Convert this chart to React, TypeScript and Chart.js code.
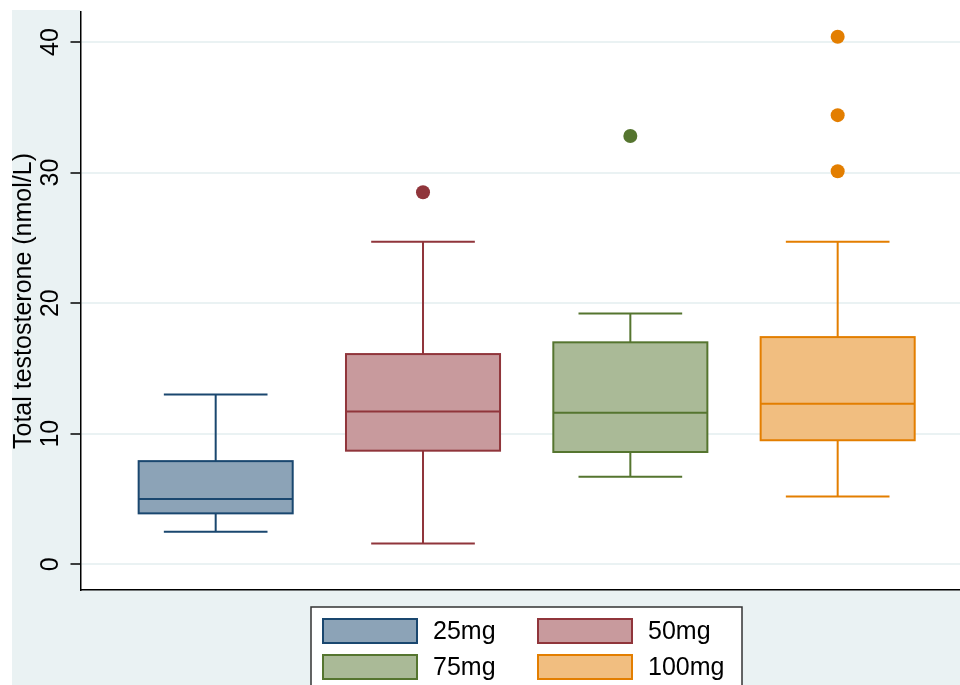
import React, { useEffect, useRef } from "react";
import { Chart, registerables } from "chart.js";

Chart.register(...registerables);

// ---- data ----
const GROUPS = ["25mg", "50mg", "75mg", "100mg"];
const GROUP_X = [1, 2, 3, 4];
const LOWER_WHISKER = [2.5, 1.6, 6.7, 5.2];
const Q1 = [3.9, 8.7, 8.6, 9.5];
const MEDIAN = [5.0, 11.7, 11.6, 12.3];
const Q3 = [7.9, 16.1, 17.0, 17.4];
const UPPER_WHISKER = [13.0, 24.7, 19.2, 24.7];
const OUTLIERS = [[], [28.5], [32.8], [40.4, 34.4, 30.1]];
const Y_TICKS = [0, 10, 20, 30, 40];
const Y_TITLE = "Total testosterone (nmol/L)";

// ---- style ----
const LINE_COLORS = ["#1a476f", "#90353b", "#55752f", "#e37e00"];
const FILL_COLORS = ["#8ca3b7", "#c89a9d", "#aaba97", "#f1be80"];
const BG = "#eaf2f3";
const FONT = "'Liberation Sans', Arial, Helvetica, sans-serif";
const BOX_WIDTH = 0.743;
const CAP_WIDTH = 0.5;

const boxPlugin = {
  id: "boxplots",
  beforeDraw(chart: any) {
    const { ctx, chartArea } = chart;
    ctx.save();
    ctx.fillStyle = "#ffffff";
    ctx.fillRect(0, 0, chart.width, chart.height);
    ctx.fillStyle = BG;
    ctx.fillRect(12, 10, chart.width - 12, chart.height - 10);
    ctx.fillStyle = "#ffffff";
    ctx.fillRect(chartArea.left, 10, chartArea.right - chartArea.left, chartArea.bottom - 10);
    ctx.restore();
  },
  beforeDatasetsDraw(chart: any) {
    const { ctx } = chart;
    const xs = chart.scales.x;
    const ys = chart.scales.y;
    ctx.save();
    ctx.lineWidth = 2;
    GROUPS.forEach((_, i) => {
      const cx = xs.getPixelForValue(GROUP_X[i]);
      const bl = xs.getPixelForValue(GROUP_X[i] - BOX_WIDTH / 2);
      const br = xs.getPixelForValue(GROUP_X[i] + BOX_WIDTH / 2);
      const cl = xs.getPixelForValue(GROUP_X[i] - CAP_WIDTH / 2);
      const cr = xs.getPixelForValue(GROUP_X[i] + CAP_WIDTH / 2);
      const yLo = ys.getPixelForValue(LOWER_WHISKER[i]);
      const yQ1 = ys.getPixelForValue(Q1[i]);
      const yMed = ys.getPixelForValue(MEDIAN[i]);
      const yQ3 = ys.getPixelForValue(Q3[i]);
      const yHi = ys.getPixelForValue(UPPER_WHISKER[i]);
      ctx.strokeStyle = LINE_COLORS[i];
      // whiskers
      ctx.beginPath();
      ctx.moveTo(cx, yQ3);
      ctx.lineTo(cx, yHi);
      ctx.moveTo(cl, yHi);
      ctx.lineTo(cr, yHi);
      ctx.moveTo(cx, yQ1);
      ctx.lineTo(cx, yLo);
      ctx.moveTo(cl, yLo);
      ctx.lineTo(cr, yLo);
      ctx.stroke();
      // box
      ctx.fillStyle = FILL_COLORS[i];
      ctx.fillRect(bl, yQ3, br - bl, yQ1 - yQ3);
      ctx.strokeRect(bl, yQ3, br - bl, yQ1 - yQ3);
      // median
      ctx.beginPath();
      ctx.moveTo(bl, yMed);
      ctx.lineTo(br, yMed);
      ctx.stroke();
    });
    ctx.restore();
  },
  afterDraw(chart: any) {
    const { ctx } = chart;
    ctx.save();
    // legend frame
    ctx.fillStyle = "#ffffff";
    ctx.fillRect(311, 607, 431, 90);
    ctx.strokeStyle = "#333333";
    ctx.lineWidth = 1.5;
    ctx.strokeRect(311, 607, 431, 90);
    ctx.font = `25px ${FONT}`;
    ctx.textBaseline = "middle";
    ctx.textAlign = "left";
    GROUPS.forEach((g, i) => {
      const col = i % 2;
      const row = Math.floor(i / 2);
      const sx = 323 + col * 215;
      const sy = 619 + row * 36;
      ctx.fillStyle = FILL_COLORS[i];
      ctx.fillRect(sx, sy, 94, 24);
      ctx.strokeStyle = LINE_COLORS[i];
      ctx.lineWidth = 2;
      ctx.strokeRect(sx, sy, 94, 24);
      ctx.fillStyle = "#000000";
      ctx.fillText(g, 433 + col * 215, sy + 13);
    });
    ctx.restore();
  },
};

export default function App() {
  const canvasRef = useRef<HTMLCanvasElement | null>(null);

  useEffect(() => {
    document.body.style.margin = "0";
    const canvas = canvasRef.current;
    if (!canvas) return;
    const datasets = GROUPS.map((g, i) => ({
      label: g,
      data: OUTLIERS[i].map((v) => ({ x: GROUP_X[i], y: v })),
      backgroundColor: LINE_COLORS[i],
      borderColor: LINE_COLORS[i],
      borderWidth: 0,
      pointRadius: 7,
      pointHoverRadius: 7,
    }));
    const chart = new Chart(canvas, {
      type: "scatter",
      data: { datasets },
      options: {
        animation: false,
        responsive: false,
        maintainAspectRatio: false,
        devicePixelRatio: 1,
        layout: { autoPadding: false, padding: { left: 12, top: 12, right: 0, bottom: 95 } },
        plugins: {
          legend: { display: false },
          tooltip: { enabled: false },
        },
        scales: {
          x: {
            type: "linear",
            min: 0.348,
            max: 4.59,
            ticks: { display: false },
            grid: { display: false, drawTicks: false },
            border: { display: true, color: "#000000", width: 1.5 },
            afterFit: (s: any) => {
              s.height = 0;
              s.paddingLeft = 0;
              s.paddingRight = 0;
            },
          },
          y: {
            type: "linear",
            min: -1.97,
            max: 42.3,
            afterBuildTicks: (s: any) => {
              s.ticks = Y_TICKS.map((v) => ({ value: v }));
            },
            ticks: {
              minRotation: 90,
              maxRotation: 90,
              crossAlign: "center",
              padding: 5,
              color: "#000000",
              font: { family: FONT, size: 25 },
              callback: (v: any) => String(v),
            },
            grid: {
              color: BG,
              lineWidth: 2,
              drawTicks: true,
              tickLength: 10,
              tickColor: "#000000",
              tickWidth: 1.5,
            },
            border: { display: true, color: "#000000", width: 1.5 },
            title: {
              display: true,
              text: Y_TITLE,
              color: "#000000",
              font: { family: FONT, size: 25, lineHeight: 1 },
              padding: 0,
            },
            afterFit: (s: any) => {
              s.width = 68.5;
              s.paddingTop = 0;
              s.paddingBottom = 0;
            },
          },
        },
      } as any,
      plugins: [boxPlugin],
    });
    return () => chart.destroy();
  }, []);

  return (
    <div style={{ width: 960, height: 685 }}>
      <canvas ref={canvasRef} width={960} height={685} style={{ display: "block" }} />
    </div>
  );
}
